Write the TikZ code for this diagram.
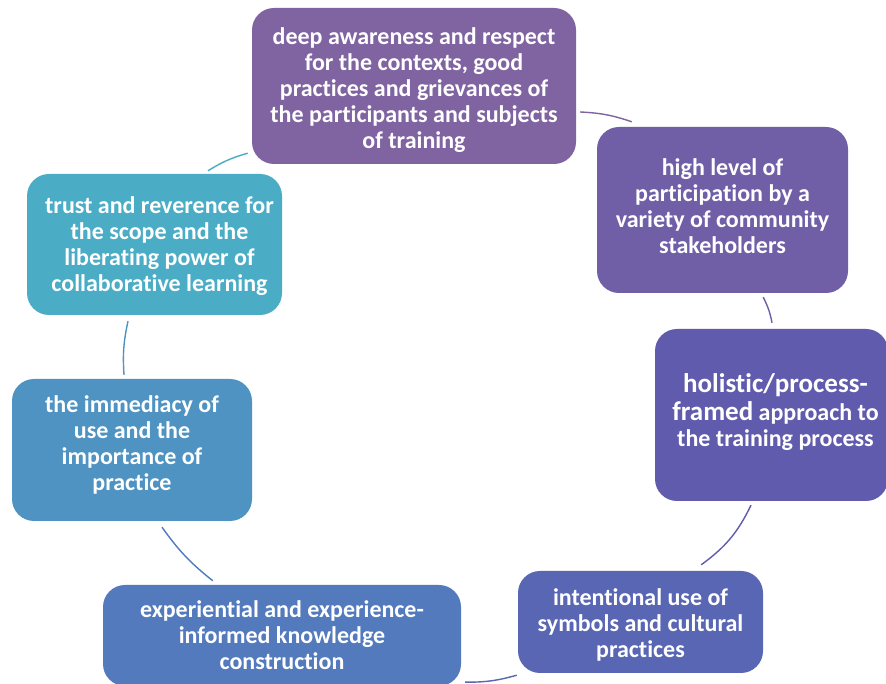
\documentclass[tikz,border=0pt]{standalone}
\usepackage{fontspec}
\setmainfont{Carlito}[Ligatures={NoCommon}]
\usetikzlibrary{calc}
\definecolor{cA}{HTML}{8064A2}
\definecolor{cB}{HTML}{705FA7}
\definecolor{cC}{HTML}{615BAD}
\definecolor{cD}{HTML}{5966B3}
\definecolor{cE}{HTML}{527ABD}
\definecolor{cF}{HTML}{4E93C2}
\definecolor{cG}{HTML}{4BACC6}
\tikzset{
  card/.style={rounded corners=22pt, inner sep=0pt},
  caption/.style={text=white, align=center, inner sep=0pt,
    font=\bfseries\fontsize{24}{26}\selectfont},
  link/.style={line width=1.4pt, bend left=8}
}
\begin{document}
\begin{tikzpicture}[x=1pt,y=1pt]
\useasboundingbox (0,0) rectangle (886,684);
\fill[white] (0,0) rectangle (886,684);

% the seven cards, clockwise from the top
\node[card, fill=cA, minimum width=324pt, minimum height=156pt] (b1) at (414,598) {};
\node[card, fill=cB, minimum width=251pt, minimum height=166pt] (b2) at (722.5,474) {};
\node[card, fill=cC, minimum width=233pt, minimum height=172pt] (b3) at (771.5,269) {};
\node[card, fill=cD, minimum width=245pt, minimum height=102pt] (b4) at (640.5,62) {};
\node[card, fill=cE, minimum width=358pt, minimum height=101pt] (b5) at (282,48.5) {};
\node[card, fill=cF, minimum width=240pt, minimum height=142pt] (b6) at (132,234) {};
\node[card, fill=cG, minimum width=255pt, minimum height=141pt] (b7) at (154.5,439.5) {};

% their captions
\node[caption, yshift=-4pt] (t1) at (b1.center)
  {deep awareness and respect\\for the contexts, good\\practices and grievances of\\the participants and subjects\\of training};
\node[caption, yshift=4pt] (t2) at (b2.center)
  {high level of\\participation by a\\variety of community\\stakeholders};
\node[caption, yshift=3pt, xshift=4pt] (t3) at (b3.center)
  {{\fontsize{27}{30}\selectfont holistic/process-}\\[2pt]{\fontsize{27}{26}\selectfont framed} approach to\\the training process};
\node[caption, yshift=-3pt] (t4) at (b4.center)
  {intentional use of\\symbols and cultural\\practices};
\node[caption] (t5) at (b5.center)
  {experiential and experience-\\informed knowledge\\construction};
\node[caption, yshift=5pt] (t6) at (b6.center)
  {the immediacy of\\use and the\\importance of\\practice};
\node[caption, yshift=-2pt, xshift=5pt] (t7) at (b7.center)
  {trust and reverence for\\the scope and the\\liberating power of\\collaborative learning};

% connecting arcs
\draw[link, cA] ($(b1.east)+(4,-26)$) to ($(b2.north west)+(35,5)$);
\draw[link, cB] ($(b2.south east)+(-85,-4)$) to ($(b3.north)+(0.5,6)$);
\draw[link, cC, bend left=14] ($(b3.south)+(-20.5,-4)$) to ($(b4.north east)+(-62,6)$);
\draw[link, cD] ($(b4.south west)+(-1,-2)$) to ($(b5.south east)+(4,4)$);
\draw[link, cE] ($(b5.north west)+(110,4)$) to ($(b6.south)+(30,-6)$);
\draw[link, cF] ($(b6.north)+(-8,4)$) to ($(b7.south)+(-26.5,-6)$);
\draw[link, cG] ($(b7.north)+(53.5,3)$) to ($(b1.south west)+(-4,11)$);
\end{tikzpicture}
\end{document}
